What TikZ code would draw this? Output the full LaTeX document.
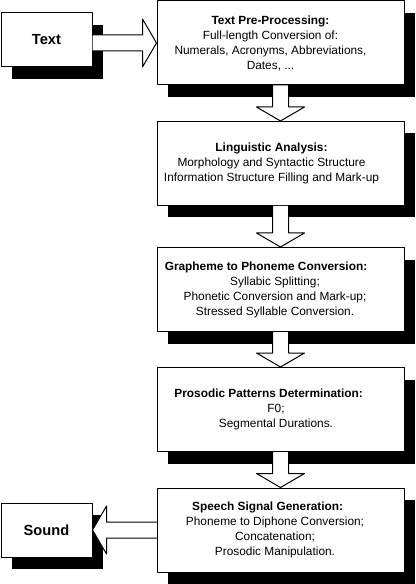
\documentclass[tikz,border=0pt]{standalone}
\usepackage{fontspec}
\setmainfont{Liberation Sans}
\usetikzlibrary{shadows}
\usetikzlibrary{calc}

\tikzset{
  stagebox/.style={draw,fill=white,line width=0.75pt,minimum width=185.25pt,minimum height=63pt,
    general shadow={fill=black,shadow xshift=8pt,shadow yshift=-9pt}},
  endbox/.style={stagebox,minimum width=68.25pt,minimum height=40.5pt,font=\fontsize{11}{13}\selectfont\bfseries},
  stagetext/.style={align=center,inner sep=0pt,font=\fontsize{8.9}{11.25}\selectfont},
  blockarrow/.style={draw,fill=white,line width=0.75pt}
}

\begin{document}
\begin{tikzpicture}[line cap=round,line join=round,x=0.75pt,y=-0.75pt]
      \useasboundingbox (0,0) rectangle (416,584);
      % end points
      \node[endbox] (txt) at (46.5,40) {Text};
      \node[endbox] (snd) at (46.5,530) {Sound};
      % processing stages
      \node[stagebox] (pre) at (280.5,43) {};
      \node[stagebox] (ling) at (280.5,163.5) {};
      \node[stagebox] (gtop) at (280.5,289.5) {};
      \node[stagebox] (pros) at (280.5,409.5) {};
      \node[stagebox] (sig) at (280.5,530) {};
      \node[stagetext] (pre-t) at (270.5,43) {\textbf{Text Pre-Processing:}\\Full-length Conversion of:\\Numerals, Acronyms, Abbreviations,\\Dates, ...};
      \node[stagetext] (ling-t) at (271.5,163.5) {\textbf{Linguistic Analysis:}\\Morphology and Syntactic Structure\\Information Structure Filling and Mark-up};
      \node[stagetext] (gtop-t) at (275,289.5) {\textbf{Grapheme to Phoneme Conversion:}\hspace*{13.5pt}\null\\Syllabic Splitting;\\Phonetic Conversion and Mark-up;\\Stressed Syllable Conversion.};
      \node[stagetext] (pros-t) at (276,409.5) {\textbf{Prosodic Patterns Determination:}\hspace*{11pt}\null\\F0;\\Segmental Durations.};
      \node[stagetext] (sig-t) at (275,530) {\textbf{Speech Signal Generation:}\hspace*{11pt}\null\\Phoneme to Diphone Conversion;\\Concatenation;\\Prosodic Manipulation.};
      % block arrows
      \filldraw[blockarrow] let \p1=(txt.east), \p2=(pre.west) in
        (\x1,\y2+6pt) -- (\x2-10.5pt,\y2+6pt) -- (\x2-10.5pt,\y2+18pt) -- (\x2,\y2)
        -- (\x2-10.5pt,\y2-18pt) -- (\x2-10.5pt,\y2-6pt) -- (\x1,\y2-6pt);
      \foreach \a/\b in {pre/ling,ling/gtop,gtop/pros,pros/sig}
      \filldraw[blockarrow] let \p1=(\a.south), \p2=(\b.north) in
        (\x1-6pt,\y1) -- (\x1-6pt,\y2+10.5pt) -- (\x1-18pt,\y2+10.5pt) -- (\x1,\y2)
        -- (\x1+18pt,\y2+10.5pt) -- (\x1+6pt,\y2+10.5pt) -- (\x1+6pt,\y1);
      \filldraw[blockarrow] let \p1=(sig.west), \p2=(snd.east) in
        (\x1,\y1+6pt) -- (\x2+10.5pt,\y1+6pt) -- (\x2+10.5pt,\y1+18pt) -- (\x2,\y1)
        -- (\x2+10.5pt,\y1-18pt) -- (\x2+10.5pt,\y1-6pt) -- (\x1,\y1-6pt);
\end{tikzpicture}
\end{document}
